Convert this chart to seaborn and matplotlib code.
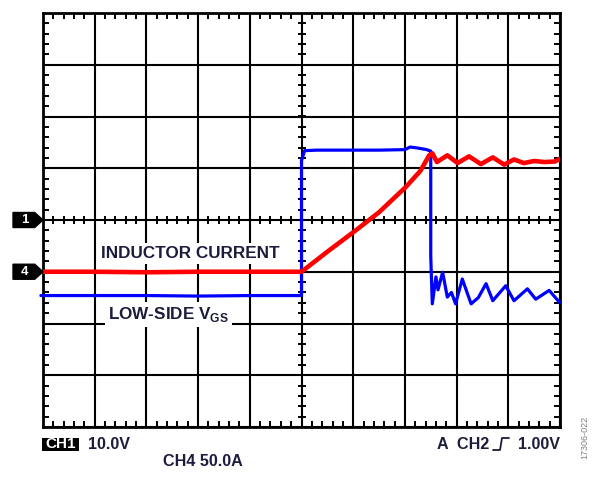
import numpy as np
import pandas as pd
import matplotlib
matplotlib.use("Agg")
import matplotlib.pyplot as plt
from matplotlib.ticker import MultipleLocator
from matplotlib.patches import Polygon, Rectangle
from matplotlib.lines import Line2D
import seaborn as sns

# ---- data (in scope divisions: x 0..10, y 0..8) ----
red_x = [0.02, 1.0, 2.0, 3.0, 4.0, 5.0, 5.53, 6.05, 6.50, 7.02, 7.30, 7.47, 7.53, 7.62,
         7.82, 8.02, 8.24, 8.47, 8.70, 8.92, 9.11, 9.30, 9.50, 9.70, 9.90, 10.0]
red_y = [3.0, 3.0, 2.99, 3.0, 3.0, 3.0, 3.41, 3.80, 4.15, 4.64, 4.95, 5.25, 5.29, 5.12,
         5.25, 5.10, 5.23, 5.08, 5.21, 5.07, 5.17, 5.10, 5.14, 5.12, 5.13, 5.18]

blue_x = [-0.04, 1.0, 2.0, 3.0, 4.0, 5.0, 5.0, 5.06, 5.3, 6.0, 6.5, 7.0, 7.1, 7.25, 7.42,
          7.50, 7.50, 7.53, 7.60, 7.64, 7.73, 7.82, 7.90, 7.98, 8.11, 8.28, 8.42, 8.57,
          8.70, 8.95, 9.11, 9.37, 9.53, 9.79, 9.99]
blue_y = [2.54, 2.54, 2.54, 2.53, 2.54, 2.54, 5.15, 5.34, 5.35, 5.35, 5.35, 5.36, 5.41,
          5.39, 5.36, 5.33, 3.3, 2.38, 2.90, 2.65, 2.99, 2.51, 2.60, 2.38, 2.86, 2.38,
          2.50, 2.77, 2.44, 2.73, 2.44, 2.67, 2.47, 2.64, 2.41]

marker_labels = ["1", "4"]
marker_levels = [4.0, 3.0]

label_inductor = "INDUCTOR CURRENT"
label_vgs = r"LOW-SIDE V$_{\mathbf{GS}}$"
bottom_left = ["CH1", "10.0V", "CH4 50.0A"]
bottom_right = ["A  CH2", "1.00V"]
fig_id = "17306-022"

# ---- style ----
sns.set_style("white")
plt.rcParams["font.family"] = ["Liberation Sans", "DejaVu Sans"]
plt.rcParams["mathtext.fontset"] = "custom"
plt.rcParams["mathtext.rm"] = "Liberation Sans:bold"
plt.rcParams["mathtext.bf"] = "Liberation Sans:bold"

TXT = "#1c1c3c"
W, H = 600, 478
fig = plt.figure(figsize=(W / 100, H / 100), dpi=100)
L, R, T, B = 43, 560, 13, 427
ax = fig.add_axes([L / W, 1 - B / H, (R - L) / W, (B - T) / H])

ax.set_xlim(0, 10)
ax.set_ylim(0, 8)

# grid
ax.xaxis.set_major_locator(MultipleLocator(1))
ax.yaxis.set_major_locator(MultipleLocator(1))
ax.xaxis.set_minor_locator(MultipleLocator(0.2))
ax.yaxis.set_minor_locator(MultipleLocator(0.2))
ax.grid(True, which="major", color="black", linewidth=1.5, zorder=1)
ax.set_axisbelow(True)
ax.tick_params(which="major", length=0, labelbottom=False, labelleft=False)
ax.tick_params(which="minor", direction="in", length=4.2, width=1.4, color="black",
               top=True, right=True, bottom=True, left=True)
for s in ax.spines.values():
    s.set_linewidth(2.0)
    s.set_color("black")
    s.set_visible(True)

# center-line ticks
cx = np.arange(0.2, 10.0, 0.2)
cy = np.arange(0.2, 8.0, 0.2)
ax.plot(cx, np.full_like(cx, 4.0), linestyle="none", marker="|", markersize=6,
        markeredgewidth=1.4, color="black", zorder=2)
ax.plot(np.full_like(cy, 5.0), cy, linestyle="none", marker="_", markersize=6,
        markeredgewidth=1.4, color="black", zorder=2)

# labels with white background (hide grid behind)
ax.text(2.85, 3.35, label_inductor, ha="center", va="center", fontsize=12.3,
        fontweight="bold", color=TXT, zorder=3,
        bbox=dict(facecolor="white", edgecolor="none", pad=2))
ax.text(1.26, 2.17, label_vgs, ha="left", va="center", fontsize=12.3,
        fontweight="bold", color=TXT, zorder=3,
        bbox=dict(facecolor="white", edgecolor="none", pad=2))

# traces
df_blue = pd.DataFrame({"x": blue_x, "y": blue_y})
df_red = pd.DataFrame({"x": red_x, "y": red_y})
sns.lineplot(data=df_blue, x="x", y="y", sort=False, estimator=None, color="#0000ff",
             linewidth=2.3, ax=ax, zorder=4, clip_on=False)
sns.lineplot(data=df_red, x="x", y="y", sort=False, estimator=None, color="#ff0000",
             linewidth=3.3, ax=ax, zorder=5)
ax.set_xlabel("")
ax.set_ylabel("")

# channel markers on left
for lab, lev in zip(marker_labels, marker_levels):
    h = 0.145
    poly = Polygon([[-0.58, lev - h], [-0.16, lev - h], [0.0, lev], [-0.16, lev + h],
                    [-0.58, lev + h]], closed=True, facecolor="black", edgecolor="black",
                   clip_on=False, zorder=6)
    ax.add_patch(poly)
    ax.text(-0.36, lev, lab, ha="center", va="center", color="white", fontsize=9.5,
            fontweight="bold", clip_on=False, zorder=7)

# bottom annotation
def fx(px):
    return px / W

def fy(py):
    return 1 - py / H

fig.patches.append(Rectangle((fx(42), fy(451)), (79 - 42) / W, 13.5 / H,
                             transform=fig.transFigure, facecolor="black",
                             edgecolor="none"))
fig.text(fx(60.5), fy(444.5), bottom_left[0], ha="center", va="center", color="white",
         fontsize=11, fontweight="bold")
fig.text(fx(88), fy(444.5), bottom_left[1], ha="left", va="center", color=TXT,
         fontsize=11.6, fontweight="bold")
fig.text(fx(163), fy(462), bottom_left[2], ha="left", va="center", color=TXT,
         fontsize=11.6, fontweight="bold")
fig.text(fx(489), fy(444.5), bottom_right[0], ha="right", va="center", color=TXT,
         fontsize=11.6, fontweight="bold")
fig.text(fx(560), fy(444.5), bottom_right[1], ha="right", va="center", color=TXT,
         fontsize=11.6, fontweight="bold")
# trigger rising-edge glyph
gx = [493, 500, 502, 509]
gy = [450, 450, 438, 438]
fig.lines.append(Line2D([fx(v) for v in gx], [fy(v) for v in gy],
                        transform=fig.transFigure, color=TXT, linewidth=1.3))
fig.text(fx(585), fy(437), fig_id, ha="center", va="center", rotation=90,
         color="#808080", fontsize=6.5)

fig.savefig("out.png", dpi=100, facecolor="white")
